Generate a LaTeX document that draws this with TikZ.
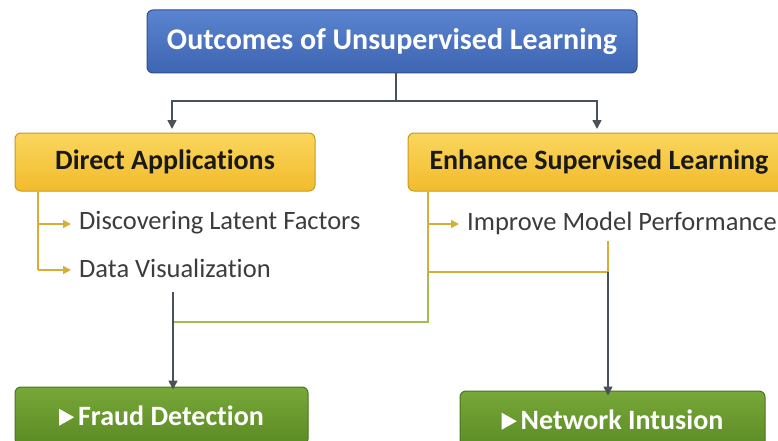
\documentclass[tikz,border=0pt]{standalone}
\usepackage{fontspec}
\setmainfont[Ligatures=NoCommon]{Carlito}
\usetikzlibrary{arrows.meta}
\definecolor{bluetop}{HTML}{5A84D0}
\definecolor{bluebot}{HTML}{3E64B2}
\definecolor{blueedge}{HTML}{2F4F8F}
\definecolor{yeltop}{HTML}{FAD65E}
\definecolor{yelbot}{HTML}{F2BB2C}
\definecolor{yeledge}{HTML}{C99A22}
\definecolor{grntop}{HTML}{78A838}
\definecolor{grnbot}{HTML}{5A8A24}
\definecolor{grnedge}{HTML}{4A7420}
\definecolor{linegray}{HTML}{4A5159}
\definecolor{lineyel}{HTML}{D9AE36}
\definecolor{linegrn}{HTML}{A3BE4E}
\definecolor{txtgray}{HTML}{3C3C3C}
\tikzset{
  boxbase/.style={rectangle, rounded corners=6pt, line width=1pt, inner sep=0pt},
  bluebox/.style={boxbase, draw=blueedge, top color=bluetop, bottom color=bluebot,
    text=white, font=\fontsize{30}{34}\selectfont\bfseries},
  yelbox/.style={boxbase, draw=yeledge, top color=yeltop, bottom color=yelbot,
    text=black!90, font=\fontsize{28}{32}\selectfont\bfseries},
  grnbox/.style={boxbase, draw=grnedge, top color=grntop, bottom color=grnbot,
    text=white, font=\fontsize{28}{32}\selectfont\bfseries},
  item/.style={anchor=west, inner sep=0pt, text=txtgray, font=\fontsize{26.5}{30}\selectfont},
  gline/.style={draw=linegray, line width=1.6pt},
  yline/.style={draw=lineyel, line width=1.6pt},
  grline/.style={draw=linegrn, line width=1.6pt},
  garrow/.style={gline, -{Triangle[length=9pt,width=9pt]}},
  yarrow/.style={yline, -{Triangle[length=8pt,width=8pt]}},
}
\newcommand{\playmark}{\tikz[baseline=0pt,x=1pt,y=1pt,sharp corners]\fill[white,sharp corners] (0,0) -- (0,17) -- (15,8.5) -- cycle;\hspace{4pt}}
\begin{document}
\begin{tikzpicture}[x=1pt,y=-1pt]
\useasboundingbox (0,0) rectangle (778,441);
\begin{scope}
\clip (0,0) rectangle (778,441);
% boxes
\node[bluebox, minimum width=490pt, minimum height=63pt] (top) at (392,41.5) {Outcomes of Unsupervised Learning};
\node[yelbox, minimum width=300pt, minimum height=58pt] (dir) at (165,162) {Direct Applications};
\node[yelbox, minimum width=382pt, minimum height=58pt] (enh) at (599,162) {Enhance Supervised Learning};
\node[grnbox, minimum width=293pt, minimum height=58pt] (fraud) at (161.5,416) {\playmark Fraud Detection};
\node[grnbox, minimum width=305pt, minimum height=58pt] (net) at (612.5,420) {\playmark Network Intusion};
% items
\node[item] (disc) at (79,223) {Discovering Latent Factors};
\node[item] (vis) at (79,268) {Data Visualization};
\node[item] (imp) at (467,223) {Improve Model Performance};
% coordinates
\coordinate (split) at (396,101);
\coordinate (dirA) at (172,129);
\coordinate (enhA) at (597,129);
\coordinate (lb0) at (38,192);
\coordinate (lb1) at (38,224);
\coordinate (lb2) at (38,270);
\coordinate (rb0) at (428,192);
\coordinate (rb1) at (428,224);
\coordinate (rb2) at (428,272);
\coordinate (rb3) at (428,322);
\coordinate (mj) at (608,272);
\coordinate (mt) at (608,241);
\coordinate (fj) at (173,322);
\coordinate (ft) at (173,292);
% top connectors
\draw[gline] (top.south -| split) -- (split);
\draw[garrow] (split) -| (dirA);
\draw[garrow] (split) -| (enhA);
% left bracket
\draw[yline] (lb0) -- (lb2);
\draw[yarrow] (lb1) -- ([xshift=-8pt]disc.west |- lb1);
\draw[yarrow] (lb2) -- ([xshift=-8pt]vis.west |- lb2);
% right bracket
\draw[yline] (rb0) -- (rb2);
\draw[yarrow] (rb1) -- ([xshift=-8pt]imp.west |- rb1);
\draw[yline] (rb2) -- (mj);
\draw[yline] (mt) -- (mj);
\draw[grline] (rb2) -- (rb3) -- (fj);
% down arrows
\draw[garrow] (mj) -- ([yshift=-5pt]net.north -| mj);
\draw[garrow] (ft) -- ([yshift=-3pt]fraud.north -| ft);
\end{scope}
\end{tikzpicture}
\end{document}
